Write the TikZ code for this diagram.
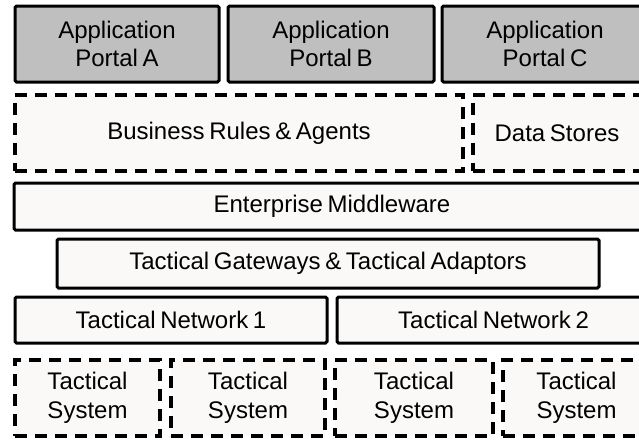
\documentclass[tikz,border=0pt]{standalone}
\usepackage{fontspec}
\setmainfont{Liberation Sans}[WordSpace=0.7]
\definecolor{portalgray}{RGB}{191,191,191}
\definecolor{layerfill}{RGB}{250,249,247}
\tikzset{
  layer/.style={draw=black, line width=3pt, fill=layerfill, rounded corners=1.5pt,
    inner sep=0pt, align=center, text=black,
    font=\fontsize{24pt}{28.5pt}\selectfont},
  portal/.style={layer, fill=portalgray},
  dashbox/.style={layer, line width=3.6pt, rounded corners=0pt,
    dash pattern=on 12pt off 8pt},
}
\begin{document}
\begin{tikzpicture}[x=1pt, y=-1pt]
  \useasboundingbox (0,0) rectangle (639,439);
  \fill[white] (0,0) rectangle (639,439);
  \clip (0,0) rectangle (639,439);

  % application portals
  \node[portal, minimum width=204pt, minimum height=76pt] (pa) at (117,44) {Application\\Portal A};
  \node[portal, minimum width=206pt, minimum height=76pt] (pb) at (331,44) {Application\\Portal B};
  \node[portal, minimum width=206pt, minimum height=76pt] (pc) at (545,44) {Application\\Portal C};

  % services
  \node[dashbox, minimum width=448pt, minimum height=76pt] (rules) at (239,133) {Business Rules \& Agents};
  \node[dashbox, minimum width=168pt, minimum height=76pt] (stores) at (557,133) {Data Stores};

  % middleware and gateways
  \node[layer, minimum width=636pt, minimum height=47pt] (mw) at (332,206.5) {Enterprise Middleware};
  \node[layer, minimum width=542pt, minimum height=49pt] (gw) at (328,263.5) {Tactical Gateways \& Tactical Adaptors};

  % networks
  \node[layer, minimum width=312pt, minimum height=46pt] (tn1) at (171,320) {Tactical Network 1};
  \node[layer, minimum width=313pt, minimum height=46pt] (tn2) at (493.5,320) {Tactical Network 2};

  % tactical systems
  \node[dashbox, minimum width=145pt, minimum height=76pt] (ts1) at (87.5,398) {Tactical\\System};
  \node[dashbox, minimum width=154pt, minimum height=76pt] (ts2) at (248,398) {Tactical\\System};
  \node[dashbox, minimum width=158pt, minimum height=76pt] (ts3) at (414,398) {Tactical\\System};
  \node[dashbox, minimum width=147pt, minimum height=76pt] (ts4) at (576.5,398) {Tactical\\System};
\end{tikzpicture}
\end{document}
